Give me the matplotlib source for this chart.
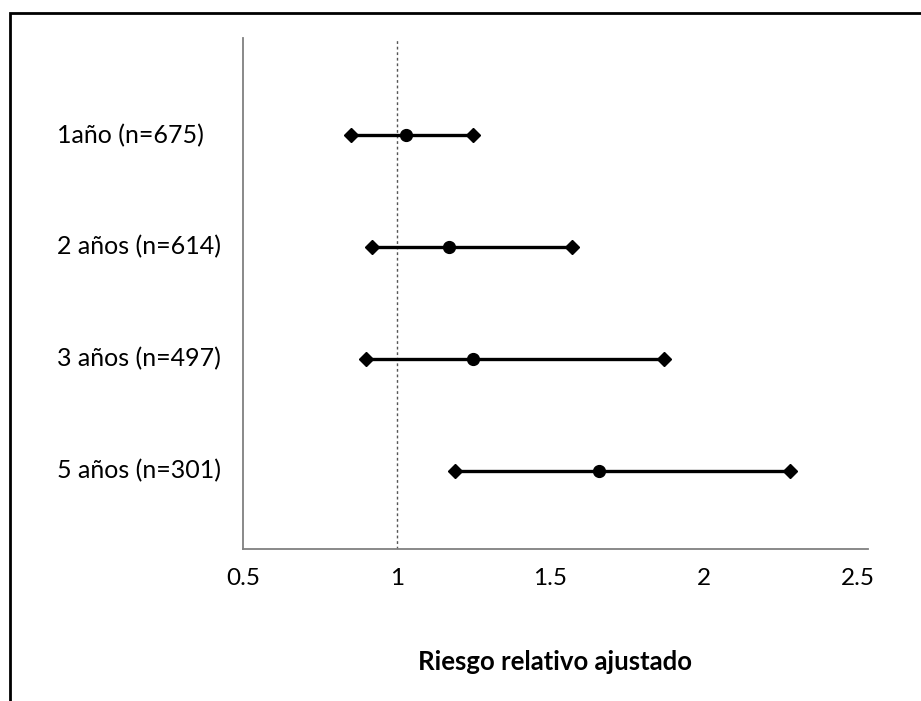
import matplotlib.pyplot as plt
import matplotlib.patches as patches
import matplotlib.transforms as mtrans
import numpy as np

# forest plot values
labels = ["1año (n=675)", "2 años (n=614)", "3 años (n=497)", "5 años (n=301)"]
rr = [1.03, 1.17, 1.25, 1.66]
lower = [0.85, 0.92, 0.90, 1.19]
upper = [1.25, 1.57, 1.87, 2.28]
xticks = [0.5, 1, 1.5, 2, 2.5]
xticklabels = ["0.5", "1", "1.5", "2", "2.5"]

plt.rcParams['font.family'] = ['Lato', 'DejaVu Sans']

W, H = 921, 701
fig = plt.figure(figsize=(W / 100, H / 100), dpi=100)
ax = fig.add_axes([243 / W, (H - 549) / H, (868 - 243) / W, (549 - 38) / H])

ypos = np.arange(len(labels), 0, -1)

ax.axvline(1, color='#555555', lw=1, ls=(0, (2, 2)), zorder=1)

for y, lo, hi, c in zip(ypos, lower, upper, rr):
    ax.plot([lo, hi], [y, y], color='black', lw=2.4, zorder=2)
    ax.plot([lo, hi], [y, y], ls='none', marker='D', ms=7, color='black', zorder=3)
    ax.plot([c], [y], ls='none', marker='o', ms=8.5, color='black', zorder=3)

ax.set_xlim(0.5, 2.534)
ax.set_ylim(0.3, 4.87)

for sp in ['top', 'right']:
    ax.spines[sp].set_visible(False)
for sp in ['left', 'bottom']:
    ax.spines[sp].set_color('#808080')
    ax.spines[sp].set_linewidth(1.3)

ax.set_yticks([])
ax.set_xticks(xticks)
ax.set_xticklabels(xticklabels, fontsize=17.5)
ax.tick_params(axis='x', length=0, pad=14)

# category labels: left aligned in figure x, data y
tr = mtrans.blended_transform_factory(fig.transFigure, ax.transData)
for y, lab in zip(ypos, labels):
    ax.text(57 / W, y, lab, transform=tr, fontsize=18, ha='left', va='center')

fig.text(555 / W, 1 - 662 / H, "Riesgo relativo ajustado", fontsize=18.5,
         fontweight='bold', ha='center', va='center')

frame = patches.Rectangle((10 / W, -0.1), 1.2, 1.1 - 13 / H, transform=fig.transFigure,
                          fill=False, edgecolor='black', lw=2)
fig.patches.append(frame)

fig.savefig("out.png", dpi=100)
